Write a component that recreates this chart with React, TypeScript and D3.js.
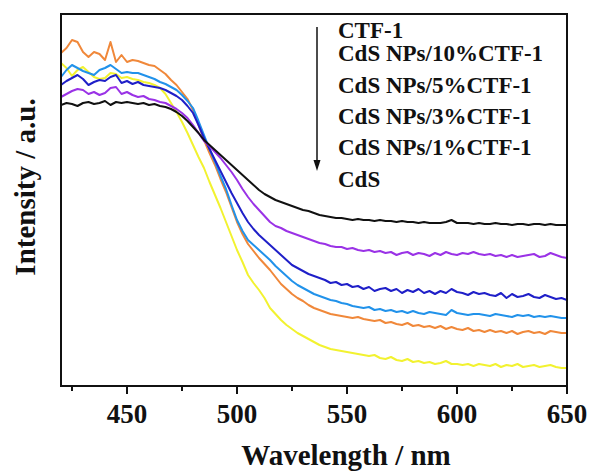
import React from "react";
import * as d3 from "d3";

const wavelengths = [
  420, 422.5, 425, 427.5, 430, 432.5, 435, 437.5, 440, 442.5, 445, 447.5, 450, 452.5, 455, 457.5, 460, 462.5, 465, 467.5,
  470, 472.5, 475, 477.5, 480, 482.5, 485, 487.5, 490, 492.5, 495, 497.5, 500, 502.5, 505, 507.5, 510, 512.5, 515, 517.5,
  520, 522.5, 525, 527.5, 530, 532.5, 535, 537.5, 540, 542.5, 545, 547.5, 550, 552.5, 555, 557.5, 560, 562.5, 565, 567.5,
  570, 572.5, 575, 577.5, 580, 582.5, 585, 587.5, 590, 592.5, 595, 597.5, 600, 602.5, 605, 607.5, 610, 612.5, 615, 617.5,
  620, 622.5, 625, 627.5, 630, 632.5, 635, 637.5, 640, 642.5, 645, 647.5, 650,
];

const ctf1 = [
  281, 283, 282, 280, 283, 284, 282, 283, 285, 281, 284, 283, 284, 283, 282, 283, 281, 282, 280, 279,
  277, 274, 270, 265, 259, 253, 246, 241, 236, 231, 226, 221, 216, 211, 206, 201, 196, 192, 189, 186,
  184, 182, 180, 178, 176, 175, 173, 171, 170, 169, 168, 168, 167, 166, 167, 166, 166, 165, 166, 165,
  165, 164, 165, 164, 164, 163, 164, 163, 163, 163, 164, 166, 163, 163, 163, 162, 163, 162, 162, 163,
  162, 162, 161, 162, 162, 161, 162, 162, 161, 162, 161, 161, 161,
];

const cds10 = [
  289, 292, 295, 297, 296, 292, 294, 291, 293, 298, 299, 292, 294, 291, 289, 290, 287, 286, 284, 283,
  280, 277, 273, 268, 261, 253, 245, 240, 234, 228, 221, 214, 206, 197, 189, 182, 176, 170, 164, 160,
  158, 155, 153, 151, 149, 147, 145, 143, 142, 140, 139, 139, 137, 138, 136, 135, 136, 134, 135, 133,
  134, 131, 133, 134, 131, 133, 132, 130, 133, 131, 134, 132, 131, 133, 132, 134, 132, 131, 132, 130,
  131, 129, 131, 129, 130, 131, 132, 129, 130, 133, 131, 129, 128,
];

const cds5 = [
  301, 305, 308, 311, 307, 301, 304, 306, 305, 309, 311, 303, 305, 302, 304, 301, 300, 299, 298, 296,
  293, 290, 286, 280, 273, 261, 248, 237, 226, 215, 204, 193, 183, 173, 164, 157, 151, 146, 141, 136,
  131, 126, 121, 118, 115, 112, 110, 108, 106, 103, 104, 101, 102, 99, 100, 97, 99, 95, 97, 98,
  95, 97, 93, 96, 94, 97, 93, 95, 92, 95, 93, 97, 94, 93, 91, 94, 92, 93, 91, 90,
  93, 88, 92, 89, 90, 92, 89, 88, 91, 89, 87, 88, 86,
];

const cds3 = [
  309, 316, 321, 318, 315, 313, 311, 316, 318, 321, 317, 313, 314, 313, 313, 311, 309, 307, 304, 302,
  299, 296, 291, 285, 278, 265, 251, 237, 224, 210, 197, 181, 166, 155, 146, 141, 136, 131, 126, 120,
  115, 110, 105, 101, 98, 95, 92, 90, 88, 86, 85, 83, 82, 80, 79, 78, 79, 76, 77, 75,
  76, 74, 75, 73, 75, 73, 72, 74, 73, 72, 71, 76, 73, 72, 71, 72, 72, 71, 70, 72,
  71, 70, 69, 71, 70, 71, 69, 70, 69, 70, 69, 68, 68,
];

const cds1 = [
  333, 338, 346, 344, 334, 329, 334, 332, 326, 344, 324, 331, 324, 326, 325, 323, 321, 320, 316, 312,
  306, 301, 294, 287, 276, 261, 246, 233, 221, 207, 194, 179, 164, 152, 142, 135, 128, 122, 116, 109,
  102, 97, 92, 88, 85, 81, 78, 76, 74, 72, 71, 70, 69, 68, 69, 67, 66, 65, 66, 63,
  64, 62, 61, 63, 60, 61, 59, 60, 58, 60, 57, 59, 57, 56, 58, 55, 56, 54, 56, 54,
  55, 53, 55, 52, 54, 55, 53, 54, 52, 55, 54, 53, 53,
];

const cds = [
  323, 318, 310, 316, 319, 314, 309, 307, 308, 313, 312, 308, 309, 307, 306, 304, 303, 301, 298, 292,
  283, 274, 264, 253, 241, 229, 218, 204, 191, 178, 164, 150, 136, 124, 111, 103, 96, 88, 78, 72,
  66, 61, 57, 53, 50, 47, 44, 41, 39, 37, 36, 35, 34, 33, 32, 31, 30, 31, 28, 27,
  29, 26, 25, 27, 24, 25, 23, 24, 22, 23, 25, 22, 22, 21, 22, 20, 22, 21, 20, 22,
  19, 21, 20, 22, 19, 20, 21, 19, 20, 21, 19, 18, 18,
];

const seriesNames = ["CTF-1", "CdS NPs/10%CTF-1", "CdS NPs/5%CTF-1", "CdS NPs/3%CTF-1", "CdS NPs/1%CTF-1", "CdS"];
const seriesValues = [ctf1, cds10, cds5, cds3, cds1, cds];
const seriesColors = ["#111111", "#9a32e6", "#1f1fc8", "#2192ea", "#f0883a", "#f2f230"];

const majorTicks = [450, 500, 550, 600, 650];
const minorTicks = [425, 475, 525, 575, 625];

const W = 595;
const H = 472;
const left = 61;
const right = 567;
const top = 14;
const bottom = 386;

export default function App() {
  const x = d3.scaleLinear().domain([420, 650]).range([left, right]);
  const y = d3.scaleLinear().domain([0, 372]).range([bottom, top]);
  const line = d3
    .line<number>()
    .x((_, i) => x(wavelengths[i]))
    .y((d) => y(d))
    .curve(d3.curveLinear);

  const drawOrder = [5, 4, 3, 2, 1, 0];
  const legendY = [38, 61, 93, 124, 155, 187];

  return (
    <div>
      <style>{"body{margin:0}"}</style>
      <svg
        width={W}
        height={H}
        style={{ display: "block", background: "#fff", fontFamily: "'Liberation Serif', 'Times New Roman', Times, serif" }}
      >
        <defs>
          <clipPath id="plot">
            <rect x={left} y={top} width={right - left} height={bottom - top} />
          </clipPath>
        </defs>
        <g clipPath="url(#plot)">
          {drawOrder.map((k) => (
            <path key={k} d={line(seriesValues[k]) || ""} fill="none" stroke={seriesColors[k]} strokeWidth={2} strokeLinejoin="round" />
          ))}
        </g>
        <rect x={left} y={top} width={right - left} height={bottom - top} fill="none" stroke="#111" strokeWidth={2} />
        {majorTicks.map((t) => (
          <g key={"M" + t}>
            <line x1={x(t)} x2={x(t)} y1={bottom} y2={bottom + 8} stroke="#111" strokeWidth={2} />
            <text x={x(t)} y={423} textAnchor="middle" fontSize={27} fontWeight="bold" fill="#111">
              {t}
            </text>
          </g>
        ))}
        {minorTicks.map((t) => (
          <line key={"m" + t} x1={x(t)} x2={x(t)} y1={bottom} y2={bottom + 5} stroke="#111" strokeWidth={2} />
        ))}
        <text x={346} y={465} textAnchor="middle" fontSize={29} fontWeight="bold" fill="#111">
          Wavelength / nm
        </text>
        <text transform="translate(35,187) rotate(-90)" textAnchor="middle" fontSize={29} fontWeight="bold" fill="#111">
          Intensity / a.u.
        </text>
        <line x1={317} x2={317} y1={27} y2={162} stroke="#111" strokeWidth={1.5} />
        <path d="M313.5,160 L320.5,160 L317,171 Z" fill="#111" />
        {seriesNames.map((n, i) => (
          <text key={n} x={338} y={legendY[i]} fontSize={23} fontWeight="bold" fill="#111">
            {n}
          </text>
        ))}
      </svg>
    </div>
  );
}
